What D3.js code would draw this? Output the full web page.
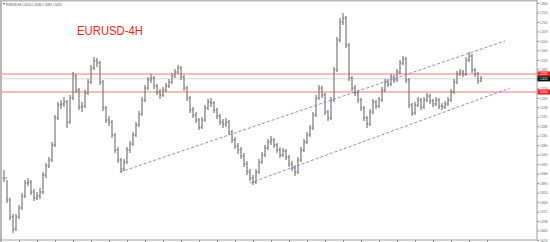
<!DOCTYPE html>
<html><head><meta charset="utf-8">
<script src="https://cdn.jsdelivr.net/npm/d3@7"></script>
<style>body{margin:0;background:#fff}svg{display:block}</style>
</head><body><svg id="c" width="550" height="242"></svg>
<script>
const symbol = "EURUSD,H4";
const ohlcInfo = ["1.14220", "1.14260", "1.14180", "1.14220"];
const title = "EURUSD-4H";

const highs = [
1.0965,1.0915,1.0825,1.0745,1.0745,1.0790,1.0850,1.0915,1.0925,1.0915,
1.0870,1.0855,1.0875,1.0955,1.1000,1.1030,1.1105,1.1240,1.1305,1.1315,
1.1330,1.1315,1.1340,1.1455,1.1445,1.1375,1.1305,1.1365,1.1420,1.1490,
1.1530,1.1525,1.1510,1.1415,1.1285,1.1235,1.1215,1.1150,1.1080,1.1025,
1.1020,1.1080,1.1110,1.1155,1.1205,1.1260,1.1330,1.1390,1.1430,1.1445,
1.1435,1.1395,1.1370,1.1380,1.1400,1.1420,1.1450,1.1470,1.1490,1.1485,
1.1440,1.1385,1.1335,1.1280,1.1255,1.1225,1.1230,1.1290,1.1320,1.1325,
1.1310,1.1275,1.1245,1.1220,1.1225,1.1215,1.1165,1.1130,1.1100,1.1080,
1.1050,1.1010,1.0970,1.0940,1.0970,1.1020,1.1055,1.1090,1.1120,1.1135,
1.1125,1.1100,1.1080,1.1075,1.1070,1.1040,1.1010,1.0990,1.1030,1.1080,
1.1120,1.1155,1.1190,1.1255,1.1340,1.1390,1.1385,1.1350,1.1265,1.1330,
1.1480,1.1630,1.1725,1.1750,1.1735,1.1600,1.1435,1.1390,1.1365,1.1325,
1.1285,1.1235,1.1270,1.1320,1.1315,1.1330,1.1380,1.1420,1.1420,1.1445,
1.1440,1.1470,1.1515,1.1535,1.1530,1.1425,1.1300,1.1305,1.1330,1.1325,
1.1330,1.1350,1.1345,1.1320,1.1330,1.1325,1.1300,1.1310,1.1330,1.1370,
1.1420,1.1460,1.1470,1.1465,1.1530,1.1555,1.1545,1.1475,1.1455,1.1435];

const lows = [
1.0905,1.0800,1.0715,1.0650,1.0660,1.0720,1.0765,1.0825,1.0885,1.0840,
1.0810,1.0815,1.0820,1.0845,1.0925,1.0975,1.1005,1.1080,1.1215,1.1270,
1.1280,1.1175,1.1195,1.1315,1.1350,1.1265,1.1255,1.1275,1.1340,1.1395,
1.1465,1.1480,1.1390,1.1260,1.1200,1.1185,1.1125,1.1050,1.1000,1.0950,
1.0960,1.0995,1.1050,1.1085,1.1130,1.1180,1.1235,1.1305,1.1365,1.1400,
1.1370,1.1340,1.1320,1.1330,1.1355,1.1375,1.1395,1.1425,1.1445,1.1415,
1.1360,1.1310,1.1250,1.1225,1.1200,1.1165,1.1170,1.1205,1.1265,1.1280,
1.1250,1.1220,1.1190,1.1175,1.1180,1.1140,1.1100,1.1070,1.1045,1.1020,
1.0980,1.0940,1.0910,1.0890,1.0895,1.0945,1.0995,1.1030,1.1065,1.1090,
1.1075,1.1050,1.1025,1.1030,1.1015,1.0980,1.0960,1.0935,1.0945,1.1005,
1.1055,1.1095,1.1130,1.1165,1.1230,1.1315,1.1325,1.1240,1.1210,1.1215,
1.1305,1.1455,1.1605,1.1690,1.1575,1.1410,1.1360,1.1335,1.1300,1.1260,
1.1210,1.1175,1.1185,1.1245,1.1270,1.1275,1.1305,1.1355,1.1380,1.1385,
1.1400,1.1405,1.1445,1.1490,1.1400,1.1275,1.1235,1.1240,1.1280,1.1265,
1.1270,1.1305,1.1295,1.1280,1.1285,1.1270,1.1265,1.1270,1.1285,1.1305,
1.1345,1.1395,1.1435,1.1430,1.1435,1.1505,1.1450,1.1430,1.1395,1.1405];

const closes = [
1.0925,1.0815,1.0730,1.0670,1.0730,1.0775,1.0835,1.0900,1.0905,1.0855,
1.0825,1.0835,1.0855,1.0940,1.0985,1.1015,1.1090,1.1225,1.1290,1.1295,
1.1305,1.1205,1.1325,1.1435,1.1365,1.1280,1.1285,1.1350,1.1405,1.1475,
1.1510,1.1500,1.1405,1.1275,1.1215,1.1205,1.1140,1.1065,1.1015,1.0970,
1.1005,1.1065,1.1095,1.1140,1.1190,1.1245,1.1315,1.1375,1.1415,1.1425,
1.1385,1.1355,1.1340,1.1365,1.1385,1.1405,1.1435,1.1455,1.1475,1.1430,
1.1375,1.1325,1.1265,1.1240,1.1215,1.1180,1.1215,1.1275,1.1305,1.1300,
1.1265,1.1235,1.1205,1.1195,1.1205,1.1155,1.1115,1.1085,1.1065,1.1035,
1.0995,1.0955,1.0925,1.0905,1.0955,1.1005,1.1040,1.1075,1.1105,1.1115,
1.1090,1.1065,1.1040,1.1060,1.1030,1.0995,1.0975,1.0955,1.1015,1.1065,
1.1105,1.1140,1.1175,1.1240,1.1325,1.1375,1.1340,1.1255,1.1225,1.1315,
1.1465,1.1615,1.1705,1.1725,1.1590,1.1425,1.1375,1.1350,1.1315,1.1275,
1.1225,1.1195,1.1255,1.1305,1.1285,1.1315,1.1365,1.1405,1.1395,1.1430,
1.1415,1.1455,1.1500,1.1520,1.1415,1.1290,1.1250,1.1290,1.1315,1.1280,
1.1315,1.1335,1.1310,1.1295,1.1315,1.1285,1.1280,1.1295,1.1315,1.1355,
1.1405,1.1445,1.1455,1.1445,1.1515,1.1535,1.1465,1.1445,1.1410,1.1421];

const priceTicks = [1.18000,1.17526,1.17052,1.16578,1.16104,1.15630,1.15156,1.14682,1.14208,1.13734,
1.13260,1.12786,1.12312,1.11838,1.11364,1.10890,1.10416,1.09942,1.09468,1.08994,
1.08520,1.08046,1.07572,1.07098,1.06624,1.06150];
const levels = [1.1445, 1.1355];
const lastPrice = 1.1421;
const channelUpper = [[38.7, 1.0955], [167, 1.1610]];
const channelLower = [[82, 1.0900], [168.7, 1.1375]];

const svg = d3.select("#c");
const R = 537, B = 240;
const x = d3.scaleLinear().domain([0, highs.length - 1]).range([4, 481]);
const y = d3.scaleLinear().domain([1.0615, 1.18]).range([240, 3]);
const FONT = "Liberation Sans, Arial";
const LABEL_SCALE = "scale(0.66,1)";

// frame
svg.append("rect").attr("x", 0).attr("y", 0).attr("width", 2).attr("height", 242).attr("fill", "#b8b8b8");
svg.append("rect").attr("x", 0).attr("y", 0).attr("width", R).attr("height", 1.5).attr("fill", "#b8b8b8");

// current price line
svg.append("line").attr("x1", 2).attr("x2", R).attr("y1", y(lastPrice)).attr("y2", y(lastPrice))
  .attr("stroke", "#d8d8d8").attr("stroke-width", 1);

// horizontal levels
svg.selectAll("line.lvl").data(levels).join("line").attr("class", "lvl")
  .attr("x1", 2).attr("x2", R).attr("y1", d => y(d)).attr("y2", d => y(d))
  .attr("stroke", "#f07878").attr("stroke-width", 1);

// OHLC bars (open = previous close)
const idx = d3.range(highs.length);
const gb = svg.append("g").attr("stroke", "#6e6e6e").attr("fill", "none");
gb.selectAll("path").data(idx).join("path")
  .attr("stroke-width", 1.1)
  .attr("d", i => {
    const xi = x(i);
    const o = i > 0 ? closes[i - 1] : closes[i];
    return `M${xi},${y(highs[i])}V${y(lows[i])}` +
           `M${xi - 1.2},${y(o)}H${xi}` +
           `M${xi},${y(closes[i])}H${xi + 1.2}`;
  });

// channel lines
[channelUpper, channelLower].forEach(c => {
  svg.append("line")
    .attr("x1", x(c[0][0])).attr("y1", y(c[0][1]))
    .attr("x2", x(c[1][0])).attr("y2", y(c[1][1]))
    .attr("stroke", "#7a7af0").attr("stroke-width", 0.9).attr("stroke-dasharray", "3,2");
});

// axes
const fmt = d3.format(".5f");
const yAxis = d3.axisRight(y).tickValues(priceTicks).tickSize(2).tickFormat(fmt);
const gy = svg.append("g").attr("transform", `translate(${R},0)`).call(yAxis);
gy.select(".domain").attr("stroke", "#a0a0a0").attr("d", `M0,0V${B}`);
gy.selectAll(".tick line").attr("stroke", "#909090");
gy.selectAll(".tick text").attr("x", 0).attr("dy", null).attr("y", 1.2)
  .attr("transform", `translate(2.4,0) ${LABEL_SCALE}`)
  .attr("font-family", FONT).attr("font-size", 3.4).attr("fill", "#555");

const xAxis = d3.axisBottom(x).tickValues(d3.range(5, highs.length + 6, 6)).tickSize(2).tickFormat("");
const gx = svg.append("g").attr("transform", `translate(0,${B})`).call(xAxis);
gx.select(".domain").attr("stroke", "#a0a0a0").attr("d", `M0,0H${R}`);
gx.selectAll(".tick line").attr("stroke", "#909090");

// price labels
function tag(v, color) {
  const g = svg.append("g").attr("transform", `translate(${R},${y(v)})`);
  g.append("rect").attr("x", 0.5).attr("y", -2.6).attr("width", 12.5).attr("height", 5.2).attr("fill", color);
  g.append("text").attr("x", 0).attr("y", 1.2).attr("transform", `translate(2.4,0) ${LABEL_SCALE}`)
    .attr("font-family", FONT).attr("font-size", 3.4).attr("fill", "#fff")
    .text(fmt(v));
}
levels.forEach(v => tag(v, "#ee2222"));
tag(lastPrice, "#111");

// info text
svg.append("path").attr("d", "M3,3.2h2.2l-1.1,1.6z").attr("fill", "#333");
svg.append("text").attr("x", 6).attr("y", 5.6).attr("font-family", FONT)
  .attr("font-size", 4).attr("fill", "#444").attr("textLength", 56).attr("lengthAdjust", "spacingAndGlyphs")
  .text(symbol + "  " + ohlcInfo.join(" "));

// title
svg.append("text").attr("x", 77).attr("y", 34.5).attr("font-family", FONT)
  .attr("font-size", 13).attr("fill", "#ff1a1a").attr("textLength", 66).attr("lengthAdjust", "spacingAndGlyphs")
  .text(title);
</script></body></html>
